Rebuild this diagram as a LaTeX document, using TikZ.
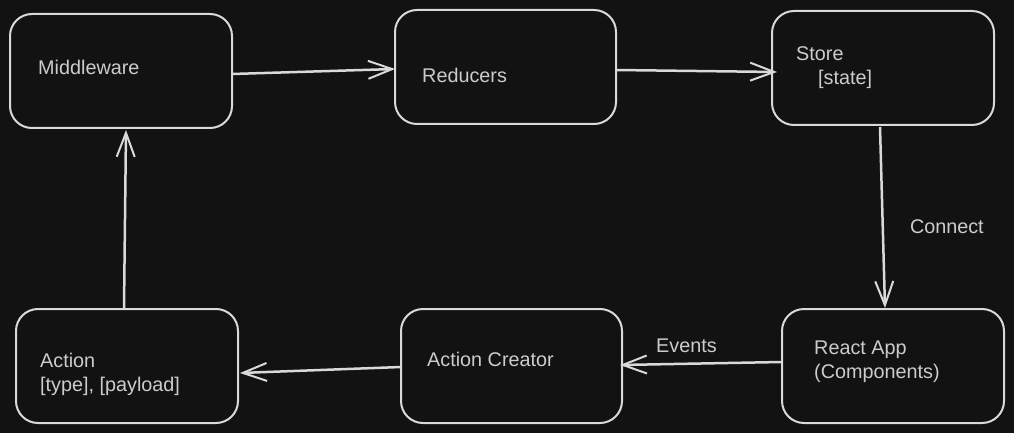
\documentclass[tikz,border=0pt]{standalone}
\usepackage{fontspec}
\setmainfont{Liberation Sans}
\usepackage{xcolor}
\usepackage{tikz}
\usetikzlibrary{arrows.meta}
\definecolor{bgdark}{HTML}{121212}
\definecolor{inkline}{HTML}{D9D9D9}
\definecolor{inktext}{HTML}{CCCCCC}
\tikzset{flowbox/.style={draw=inkline, line width=2pt, rounded corners=22pt,
        minimum width=222pt, minimum height=114pt, inner sep=0pt, outer sep=0pt},
    boxtext/.style={text=inktext, anchor=west, align=left, inner sep=0pt},
    flow/.style={draw=inkline, line width=2.5pt,
        -{Straight Barb[length=24pt, width=18pt, line width=2pt]}},
    edgetext/.style={text=inktext, inner sep=0pt}}

\begin{document}
\begin{tikzpicture}[x=1pt, y=-1pt,
        every node/.style={font=\fontsize{19.8}{24}\selectfont}]
    \fill[bgdark] (0,0) rectangle (1014,433);
    \useasboundingbox (0,0) rectangle (1014,433);
    \node[flowbox] (mw) at (121,71) {};
    \node[flowbox, minimum width=221pt] (rd) at (505.5,67) {};
    \node[flowbox] (st) at (883,68) {};
    \node[flowbox] (act) at (127,366) {};
    \node[flowbox, minimum width=221pt] (acr) at (511.5,366) {};
    \node[flowbox] (app) at (893,366) {};
    \node[boxtext] (mwt) at (38,67.5) {Middleware};
    \node[boxtext] (rdt) at (422,75.5) {Reducers};
    \node[boxtext] (stt) at (796,67.5) {Store\\\hspace*{22pt}[state]};
    \node[boxtext] (actt) at (40,374) {Action\\{}[type], [payload]};
    \node[boxtext] (acrt) at (427,359.5) {Action Creator};
    \node[boxtext] (appt) at (814,361.5) {React App\\(Components)};
    \draw[flow] ([yshift=-3pt]mw.east) -- ([yshift=-2pt]rd.west);
    \draw[flow] ([yshift=-3pt]rd.east) -- ([xshift=5pt, yshift=-4pt]st.west);
    \draw[flow] ([xshift=-3pt, yshift=-2pt]st.south) -- ([xshift=-8pt, yshift=1pt]app.north)
        node[edgetext, pos=0.55, anchor=west, xshift=26pt] (con) {Connect};
    \draw[flow] ([yshift=4pt]app.west) -- ([xshift=-2pt, yshift=1pt]acr.east)
        node[edgetext, pos=0.59, above=9.5pt] (evt) {Events};
    \draw[flow] ([yshift=-1pt]acr.west) -- ([xshift=2pt, yshift=-7pt]act.east);
    \draw[flow] ([xshift=-3pt, yshift=1pt]act.north) -- ([xshift=5pt, yshift=-2pt]mw.south);
\end{tikzpicture}
\end{document}
